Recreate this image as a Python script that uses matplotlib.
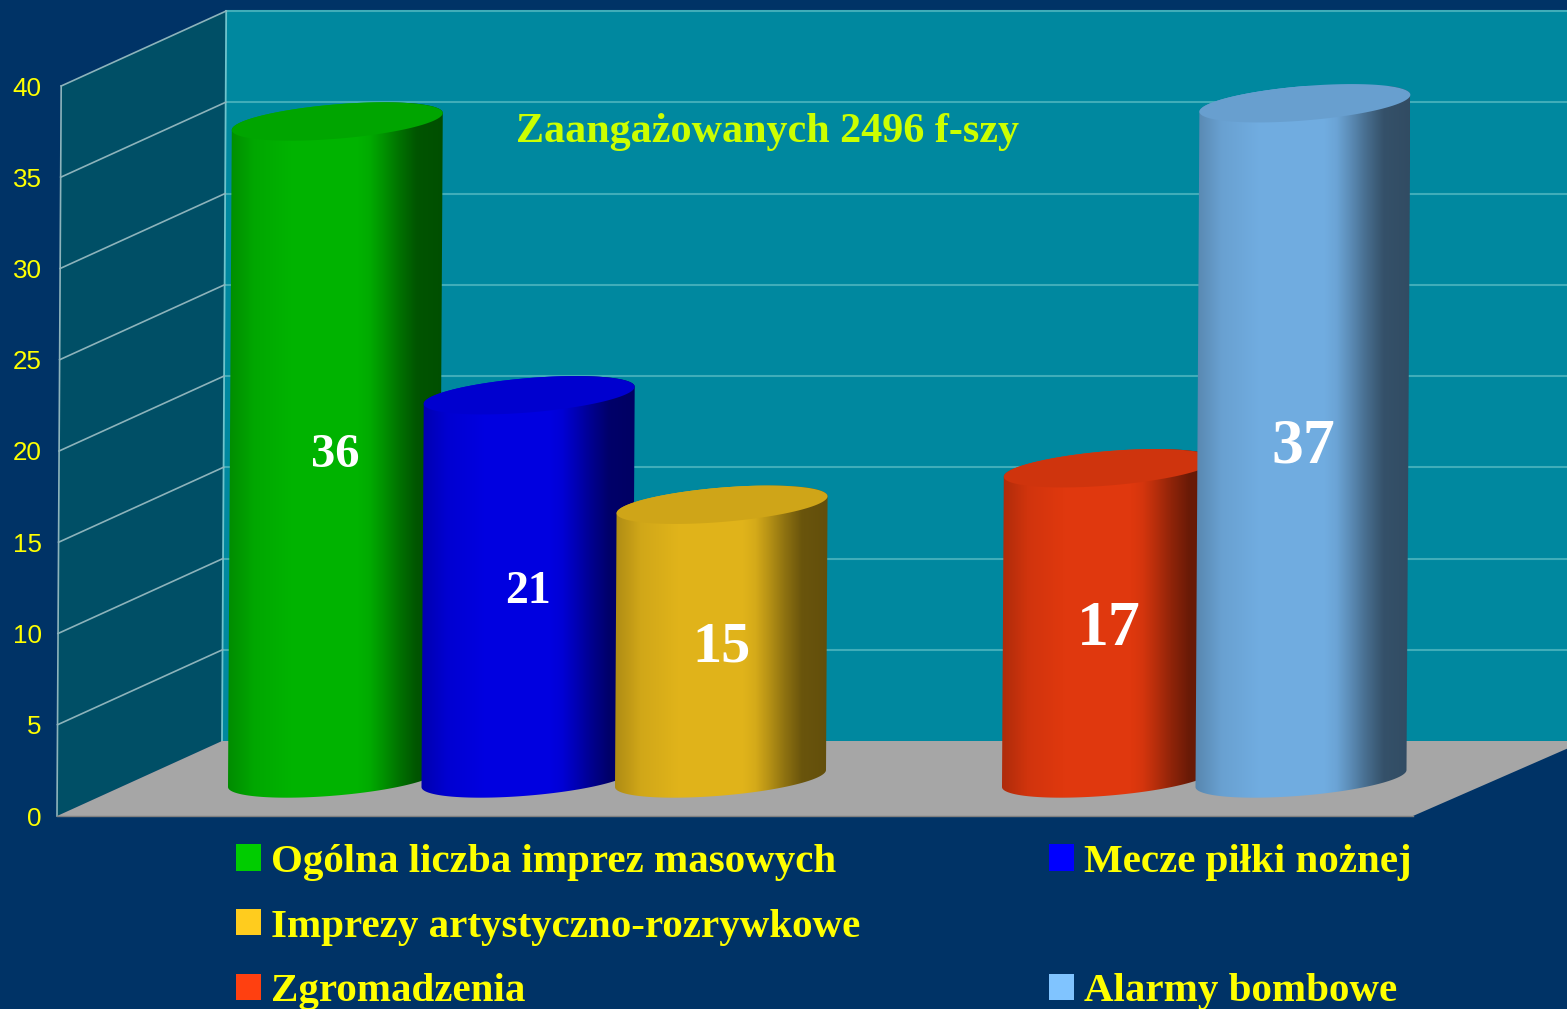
import numpy as np
import matplotlib
matplotlib.use('Agg')
import matplotlib.pyplot as plt
from matplotlib.patches import Patch, Polygon

# dane
nazwy = ['Ogólna liczba imprez masowych', 'Mecze piłki nożnej', 'Imprezy artystyczno-rozrywkowe',
         'Zgromadzenia', 'Alarmy bombowe']
wartosci = [36, 21, 15, 17, 37]
pozycje = [0, 1, 2, 4, 5]
kolory = ['#00cc00', '#0000ff', '#ffcc1e', '#ff4010', '#80c4ff']
rozmiary = [35, 33, 42, 46, 46]
y_ticki = [0, 5, 10, 15, 20, 25, 30, 35, 40]

# geometria w pikselach -> jednostki danych
W, H = 1567, 1009
px_x = 193.5
px_y = 18.25
x_min = (57 - 333.5) / px_x
x_max = (W - 333.5) / px_x
glebokosc_x = 165 / px_x
glebokosc_y = 75 / px_y
pochylenie = 0.105 / px_x
podstawa = 37.5 / px_y
r = 105.5 / px_x
tilt = 8.5 / px_y
b = 17.2 / px_y
CIENIE_POZ = [0, 0.05, 0.12, 0.3, 0.6, 0.66, 0.72, 0.8, 0.88, 1]
CIENIE_WART = [0.78, 0.84, 0.93, 1, 1, 0.95, 0.82, 0.63, 0.47, 0.44]

fig = plt.figure(figsize=(W / 100, H / 100), dpi=100, facecolor='#003366')
ax = fig.add_axes([57 / W, (H - 816) / H, (W - 57) / W, 730 / H])
ax.patch.set_visible(False)
for s in ax.spines.values():
    s.set_visible(False)


def sciana(v, g=0.0, x=x_min):
    # punkt sciany: wartosc v, glebokosc g (0-1)
    return (x + pochylenie * v + glebokosc_x * g, v + glebokosc_y * g)


# tlo wykresu
x_prawy = x_min + (1413 - 57) / px_x
x_koniec = x_prawy + glebokosc_x * 1.04
ax.add_patch(Polygon([sciana(0, 1), sciana(40, 1), (x_koniec + 1, 40 + glebokosc_y), (x_koniec + 1, glebokosc_y)],
                     fc='#00889f', ec='none', clip_on=False, zorder=1))
ax.add_patch(Polygon([sciana(0), sciana(40), sciana(40, 1), sciana(0, 1)],
                     fc='#004f66', ec='none', clip_on=False, zorder=1))
ax.add_patch(Polygon([sciana(0), (x_prawy, 0), (x_koniec, glebokosc_y), sciana(0, 1)],
                     fc='#a6a6a6', ec='none', clip_on=False, zorder=2))

for v in y_ticki[1:]:
    a, c = sciana(v), sciana(v, 1)
    ax.plot([a[0], c[0]], [a[1], c[1]], color='#8db3bb', lw=1.2, clip_on=False, zorder=3)
    ax.plot([c[0], x_koniec + 1], [c[1], c[1]], color='#40adb9', lw=1.5, clip_on=False, zorder=1.5)
ax.plot([sciana(0)[0], sciana(40)[0]], [0, 40], color='#8db3bb', lw=1.2, clip_on=False, zorder=3)
ax.plot([sciana(0, 1)[0], sciana(40, 1)[0]], [glebokosc_y, 40 + glebokosc_y], color='#6fc3cc', lw=1.3,
        clip_on=False, zorder=1.6)
ax.plot([sciana(0)[0], x_prawy], [0, 0], color='#808080', lw=1, clip_on=False, zorder=3)

# walce
t1 = np.linspace(np.pi, 2 * np.pi, 80)
t2 = np.linspace(0, np.pi, 80)
t3 = np.linspace(0, 2 * np.pi, 160)
gradient = np.interp(np.linspace(0, 1, 256), CIENIE_POZ, CIENIE_WART)

for i, (poz, wart, kol) in enumerate(zip(pozycje, wartosci, kolory)):
    z = 10 + i
    rgb = np.array(matplotlib.colors.to_rgb(kol))
    szczyt = podstawa + wart
    xd = poz
    xg = poz + pochylenie * wart
    dol = np.c_[xd + r * np.cos(t1), podstawa + tilt * np.cos(t1) + b * np.sin(t1)]
    gora = np.c_[xg + r * np.cos(t2), szczyt + tilt * np.cos(t2) + b * np.sin(t2)]
    kontur = Polygon(np.r_[dol, gora], fc='none', ec='none', transform=ax.transData)
    ax.add_patch(kontur)
    kolumny = (gradient[None, :, None] * 0.88 * rgb[None, None, :]).clip(0, 1)
    im = ax.imshow(kolumny, extent=[xd - r, xg + r, 0, szczyt + 2], aspect='auto', zorder=z,
                   interpolation='bilinear', clip_on=True)
    im.set_clip_path(kontur)
    wieko = np.c_[xg + r * np.cos(t3), szczyt + tilt * np.cos(t3) + b * np.sin(t3)]
    ax.add_patch(Polygon(wieko, fc=rgb * 0.81, ec='none', zorder=z + 0.1, clip_on=False))
    ax.annotate(str(wart), (xd + pochylenie * wart / 2, podstawa + wart / 2),
                xytext=(0, -0.105 * rozmiary[i]), textcoords='offset points', color='white',
                ha='center', va='center', family='Liberation Serif', weight='bold',
                fontsize=rozmiary[i], zorder=30)

ax.set_xlim(x_min, x_max)
ax.set_ylim(0, 40)
ax.set_xticks([])
ax.set_yticks(y_ticki)
ax.tick_params(axis='y', length=0, pad=11, labelcolor='#ffff00', labelsize=18.7)
for lab in ax.get_yticklabels():
    lab.set_family('Liberation Sans')

fig.text(767 / W, 1 - 132 / H, 'Zaangażowanych 2496 f-szy', color='#ccff00', ha='center', va='center',
         family='Liberation Serif', weight='bold', fontsize=30.3)

# legenda, srodkowe miejsce drugiej kolumny zostaje puste
uchwyty = [Patch(fc=k, ec='none') for k in kolory]
kolejnosc = [(uchwyty[0], nazwy[0]), (uchwyty[2], nazwy[2]), (uchwyty[3], nazwy[3]),
             (uchwyty[1], nazwy[1]), (Patch(fc='none', ec='none'), ''), (uchwyty[4], nazwy[4])]
leg = fig.legend([k[0] for k in kolejnosc], [k[1] for k in kolejnosc], ncol=2, frameon=False,
                 loc='upper left', bbox_to_anchor=(236 / W, 1 - 844 / H), borderpad=0, borderaxespad=0,
                 prop={'family': 'Liberation Serif', 'weight': 'bold', 'size': 29.5},
                 handlelength=0.61, handleheight=0.61, handletextpad=0.25, labelspacing=0.676,
                 columnspacing=4.59, labelcolor='#ffff00')

fig.savefig('out.png', dpi=100, facecolor=fig.get_facecolor())
